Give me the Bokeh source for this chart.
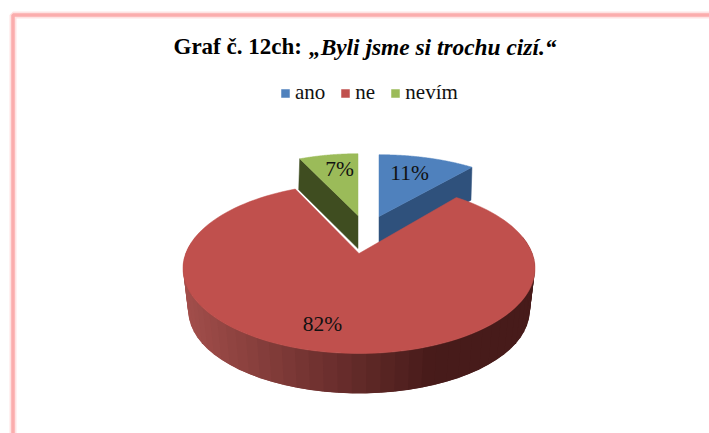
import numpy as np
from bokeh.plotting import figure
from bokeh.models import Legend, LegendItem
from bokeh.core.properties import value
from bokeh.embed import file_html
from bokeh.resources import INLINE

# ---- data ----
categories = ["ano", "ne", "nevím"]
shares = [11, 82, 7]
point_labels = ["11%", "82%", "7%"]
title_bold = "Graf č. 12ch:"
title_italic = "„Byli jsme si trochu cizí.“"

# ---- styles / layout ----
top_colors = ["#4F81BD", "#C0504D", "#9BBB59"]
wall_colors = ["#2F517C", None, "#3F4D20"]
RX, RY, K = 173.3, 82.5, 0.175
SERIF = "Liberation Serif"
W, H = 709, 433

p = figure(width=W, height=H, x_range=(0, W), y_range=(H, 0),
           toolbar_location=None, output_backend="svg", min_border=0,
           x_axis_location=None, y_axis_location=None, outline_line_color=None,
           background_fill_color="white", border_fill_color="white")
p.grid.visible = False


def project(theta, apex, scale=1.0, xscale=None):
    s, c = np.sin(theta), np.cos(theta)
    d = 1 + K * c
    xscale = scale if xscale is None else xscale
    return (apex[0] + xscale * RX * s / d,
            apex[1] - scale * RY * c / d)


# slice angles, clockwise from twelve o'clock
total = sum(shares)
edges = np.radians(np.cumsum([0] + shares) / total * 360)
spans = list(zip(edges[:-1], edges[1:]))

# frame
xf, yf = [12.5, 12.5, W], [H, 14.5, 14.5]
p.line(xf, yf, line_color="#FBAFAF", line_width=7, line_alpha=0.35)
p.line(xf, yf, line_color="#FBADAD", line_width=3.5)

renderers = []

apexes = [(378.5, 216), (358.5, 253), (357.5, 215)]
scales = [0.88, 1.0, 0.88]
xscales = [0.955, 1.0, 0.915]

# exploded back slices: radial walls of blue and green
depths = {0: (33, 33), 2: (33, 31)}
for i, (d_in, d_out) in depths.items():
    wall_angle = spans[i][1] if i == 0 else spans[i][0]
    ox, oy = project(wall_angle, apexes[i], scales[i], xscales[i])
    p.patch([apexes[i][0], ox, ox - 1, apexes[i][0]],
            [apexes[i][1], oy, oy + d_out, apexes[i][1] + d_in],
            fill_color=wall_colors[i], line_color=wall_colors[i], line_width=0.5)

# main slice: side wall
apex_top = apexes[1]
apex_bot = (358.5, 296)
SCALE_BOT = 0.97
ts = np.radians(np.linspace(282, 78, 52))
left_c, right_c = np.array([0xA2, 0x4E, 0x4B]), np.array([0x47, 0x1B, 0x1A])
for t0, t1 in zip(ts[:-1], np.r_[ts[2:], ts[-1]]):
    x0, y0 = project(t0, apex_top)
    x1, y1 = project(t1, apex_top)
    x2, y2 = project(t1, apex_bot, SCALE_BOT)
    x3, y3 = project(t0, apex_bot, SCALE_BOT)
    f = np.clip(((x0 + x1) / 2 - 188) / (440 - 188), 0, 1)
    rgb = (left_c + (right_c - left_c) * f).astype(int)
    p.patch([x0, x1, x2, x3], [y0, y1, y2, y3],
            fill_color="#%02x%02x%02x" % tuple(rgb), line_color=None)

# top faces
for i in range(3):
    th = np.linspace(spans[i][0], spans[i][1], 120)
    x, y = project(th, apexes[i], scales[i], xscales[i])
    r = p.patch(np.r_[apexes[i][0], x], np.r_[apexes[i][1], y],
                fill_color=top_colors[i], line_color=top_colors[i], line_width=0.5)
    renderers.append(r)

# point labels
label_xy = [(409, 172), (322, 323), (339, 168)]
p.text([q[0] for q in label_xy], [q[1] for q in label_xy], text=point_labels,
       text_font=value(SERIF), text_font_size="21.5px", text_color="#111111",
       text_align="center", text_baseline="middle")

# title
p.text([173], [46], text=[title_bold], text_font=value(SERIF), text_font_size="23px",
       text_font_style="bold", text_color="black", text_align="left", text_baseline="middle")
p.text([556], [46], text=[title_italic], text_font=value(SERIF), text_font_size="23.4px",
       text_font_style="bold italic", text_color="black", text_align="right", text_baseline="middle")

# legend
legend = Legend(items=[LegendItem(label=c, renderers=[r]) for c, r in zip(categories, renderers)],
                orientation="horizontal", location=(280, 328), background_fill_alpha=0,
                border_line_color=None, padding=0, margin=0, spacing=15, label_standoff=5,
                glyph_width=10, glyph_height=10,
                label_text_font=SERIF, label_text_font_size="21px", label_text_color="#111111")
p.add_layout(legend, "center")

open("out.html", "w").write(file_html(p, INLINE))
